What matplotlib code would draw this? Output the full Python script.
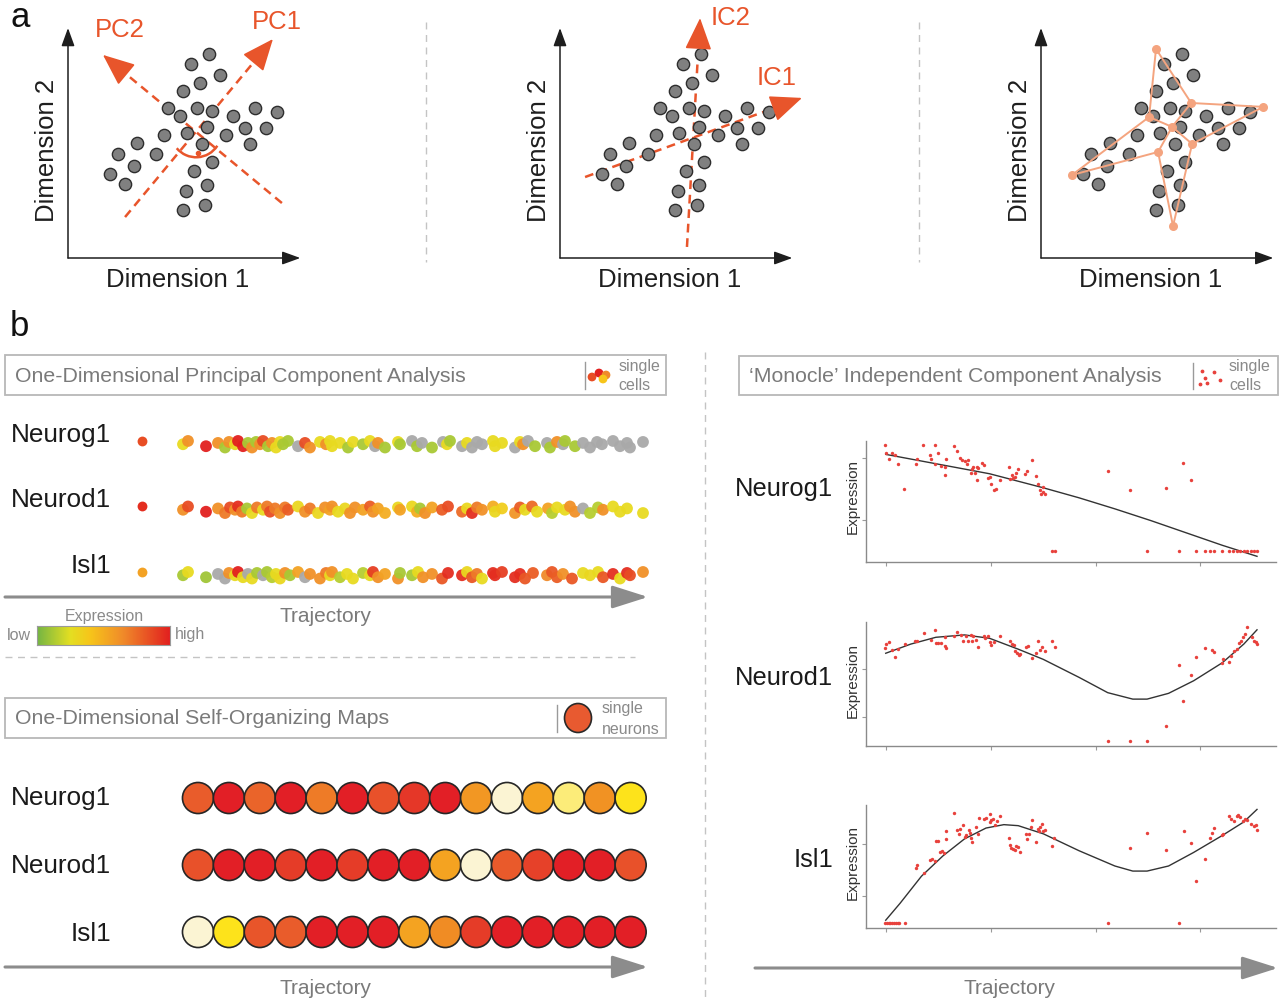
import numpy as np
import matplotlib.pyplot as plt
from matplotlib.colors import LinearSegmentedColormap
from matplotlib.patches import Rectangle, Arc, Ellipse

plt.rcParams['font.family'] = ['Liberation Sans', 'DejaVu Sans']

# ---------------- data ----------------
# panel a: the same toy point cloud in three panels (Dimension 1 / Dimension 2)
cloud_x = [6.13, 5.35, 6.61, 5.74, 5.00, 4.35, 4.87, 5.61, 6.26, 7.17, 8.13, 9.09,
           5.17, 6.04, 6.87, 7.70, 8.61, 7.91, 4.17, 3.00, 2.17, 3.83, 2.87, 1.83,
           2.48, 5.83, 6.26, 5.48, 6.04, 5.13, 5.96, 5.00]
cloud_y = [8.87, 8.43, 7.96, 7.61, 7.26, 6.52, 6.17, 6.52, 6.39, 6.17, 6.52, 6.35,
           5.43, 5.70, 5.35, 5.65, 5.65, 4.96, 5.35, 5.00, 4.52, 4.52, 4.00, 3.65,
           3.22, 4.96, 4.17, 3.78, 3.17, 2.91, 2.30, 2.09]

pc_names = ['PC1', 'PC2']
pc_start = [(2.48, 1.78), (9.30, 2.39)]
pc_tip = [(8.91, 9.52), (1.52, 8.83)]
pc_label_pos = [(9.09, 10.26), (2.26, 9.91)]
pc_center = (5.57, 5.48)
pc_dot = (5.64, 4.58)

ic_names = ['IC1', 'IC2']
ic_start = [(1.09, 3.52), (5.52, 0.48)]
ic_tip = [(10.52, 6.96), (6.09, 10.43)]
ic_label_pos = [(9.43, 7.83), (7.43, 10.43)]

graph_nodes = {'A': (5.00, 9.09), 'B': (6.53, 6.74), 'C': (9.66, 6.57), 'D': (5.70, 5.70),
               'E': (4.70, 6.13), 'F': (6.57, 4.96), 'G': (5.09, 4.61), 'H': (1.35, 3.61),
               'I': (5.74, 1.39)}
graph_edges = ['AB', 'BC', 'CF', 'FI', 'IG', 'GH', 'HE', 'EA', 'BD', 'DF', 'DG', 'ED']

# panel b: 1D PCA strips, position along trajectory and expression level (nan = not detected)
genes = ['Neurog1', 'Neurod1', 'Isl1']
nan = np.nan
neurog1_pos = [0, 5, 23, 35, 42, 46, 52, 55, 60, 65, 69, 73, 77, 80, 85, 89, 93, 97, 100, 105,
               115, 122, 127, 137, 143, 147, 149, 157, 165, 170, 180, 187, 192, 195, 202, 215,
               217, 229, 234, 239, 249, 260, 264, 267, 279, 284, 289, 294, 299, 310, 312, 319,
               332, 337, 340, 345, 352, 364, 367, 374, 380, 382, 392, 400, 407, 414, 419, 430,
               437, 444, 447, 460]
neurog1_lvl = [0.28, 0.62, 1.0, 0.62, 0.12, 0.62, 0.28, 1.0, 1.0, 0.12, 0.62, 0.12, 0.62, 0.85,
               0.12, 0.62, 0.28, 0.28, 0.12, 0.12, nan, 0.85, 0.62, 0.28, 0.62, 0.28, 0.28, 0.28,
               0.12, 0.28, 0.12, 0.28, nan, 0.62, 0.12, 0.28, 0.12, nan, 0.12, nan, 0.12, nan,
               0.28, 0.12, nan, 0.28, nan, nan, nan, 0.28, 0.28, 0.28, nan, 0.28, 0.62, nan,
               0.12, nan, 0.12, 0.62, nan, 0.12, 0.12, nan, nan, nan, nan, nan, nan, nan, nan, nan]
neurod1_pos = [0, 5, 23, 35, 42, 47, 52, 55, 59, 64, 69, 74, 80, 84, 87, 92, 97, 102, 105, 115,
               122, 127, 135, 142, 147, 149, 155, 162, 167, 172, 180, 187, 190, 195, 202, 215,
               217, 229, 234, 237, 242, 249, 259, 265, 279, 284, 289, 294, 299, 310, 312, 319,
               332, 337, 342, 349, 354, 365, 369, 374, 382, 387, 392, 400, 407, 415, 420, 430,
               437, 444, 460]
neurod1_lvl = [0.62, 0.85, 1.0, 0.62, 0.7, 0.85, 0.62, 0.95, 0.7, 0.12, 0.28, 0.7, 0.28, 0.7,
               0.85, 0.7, 0.62, 0.7, 0.8, 0.3, 0.62, 0.7, 0.3, 0.62, 0.55, 0.62, 0.28, 0.3, 0.62,
               0.62, 0.55, 0.8, 0.62, 0.55, 0.5, 0.3, 0.55, 0.3, 0.5, 0.12, 0.62, 0.55, 0.8, 0.85,
               0.75, 0.3, 0.95, 0.7, 0.62, 0.5, 0.3, 0.35, 0.6, 0.8, 0.28, 0.75, 0.28, 0.55, 0.15,
               0.28, 0.28, 0.62, 0.62, nan, 0.15, 0.15, 0.62, 0.28, 0.28, 0.28, 0.28]
isl1_pos = [0, 5, 23, 35, 42, 46, 52, 55, 60, 65, 69, 74, 80, 84, 89, 93, 97, 102, 107, 115,
            122, 127, 137, 143, 147, 149, 157, 164, 170, 180, 187, 190, 195, 202, 215, 217, 229,
            235, 240, 249, 259, 265, 279, 284, 289, 294, 299, 310, 312, 319, 332, 337, 342, 350,
            364, 369, 374, 380, 389, 400, 407, 415, 420, 430, 437, 444, 447, 460]
isl1_lvl = [0.12, 0.28, 0.1, nan, nan, 0.62, 0.28, 1.0, 0.28, nan, 0.28, 0.12, nan, 0.12, 0.15,
            0.28, 0.3, 0.62, 0.12, 0.55, nan, 0.62, 0.62, 0.7, 0.28, 0.62, 0.15, 0.28, 0.28,
            0.15, 0.28, 0.9, 0.62, 0.55, 0.62, 0.12, 0.12, 0.28, 0.62, 0.62, 0.82, 0.95, 0.95,
            0.3, 0.82, 0.7, 0.28, 0.95, 0.95, 0.9, 0.95, 0.95, 0.82, 0.8, 0.65, 0.82, 0.8, 0.62,
            0.82, 0.28, 0.3, 0.28, 0.82, 0.95, 0.28, 0.95, 0.85, 0.62]
mean_level = [0.85, 0.95, 0.55]

# panel b: 1D self-organizing map, 15 neurons per gene
som_neurog1 = [0.75, 1.0, 0.72, 1.0, 0.62, 1.0, 0.8, 0.9, 1.0, 0.5, 0.0, 0.45, 0.1, 0.52, 0.2]
som_neurod1 = [0.8, 1.0, 1.0, 0.88, 1.0, 0.88, 1.0, 1.0, 0.45, 0.0, 0.76, 0.86, 1.0, 1.0, 0.8]
som_isl1 = [0.0, 0.2, 0.78, 0.75, 1.0, 1.0, 1.0, 0.45, 0.55, 0.88, 1.0, 1.0, 1.0, 1.0, 1.0]

# panel b: Monocle pseudotime plots (cells and fitted curve)
ng_x = [-0.7, 0.7, 2.7, 6.1, 9.2, 11.9, 17.7, 29.0, 30.0, 35.8, 42.0, 42.7, 47.1, 47.1, 49.5,
        52.9, 56.3, 56.3, 57.0, 65.5, 68.3, 71.0, 72.4, 75.1, 77.1, 78.5, 81.2, 81.9, 83.6,
        85.3, 86.7, 87.0, 88.1, 92.2, 93.9, 97.3, 99.0, 100.7, 103.1, 104.8, 108.5, 117.7,
        118.8, 120.1, 121.2, 123.6, 124.6, 126.3, 133.1, 134.8, 139.9, 143.3, 145.1, 146.8,
        147.8, 149.5, 150.2, 151.9, 211.6, 233.1, 267.2, 283.3, 291.1,
        158.7, 161.4, 249.1, 279.9, 296.2, 304.4, 309.2, 313.3, 320.8, 327.6, 331.1, 334.5,
        337.9, 341.3, 344.7, 348.1, 351.5, 353.9]
ng_y = [34.9, 32.7, 30.7, 32.7, 32.0, 29.2, 21.9, 29.2, 30.9, 34.9, 31.9, 30.7, 34.9, 29.4,
        32.5, 28.6, 25.9, 28.4, 30.7, 34.6, 33.2, 31.0, 30.6, 30.2, 29.4, 30.4, 26.7, 27.7,
        28.4, 26.7, 24.4, 28.4, 28.1, 29.6, 28.9, 25.2, 25.5, 23.4, 21.4, 21.7, 24.4, 28.4,
        24.7, 26.0, 25.2, 25.4, 26.7, 27.7, 26.4, 27.2, 30.4, 25.7, 23.2, 21.4, 20.4, 22.4,
        21.0, 20.2, 27.2, 21.5, 22.0, 29.5, 24.4,
        3.2, 3.2, 3.2, 3.2, 3.2, 3.2, 3.2, 3.2, 3.2, 3.2, 3.2, 3.2, 3.2, 3.2, 3.2, 3.2, 3.2, 3.2]
ng_fit_x = [0, 47.8, 99.0, 150.2, 184.3, 218.4, 252.6, 286.7, 320.8, 353.9]
ng_fit_y = [32.2, 29.4, 26.4, 22.2, 19.2, 15.9, 12.4, 8.7, 5.0, 1.7]

nd_x = [-0.7, 0.7, 2.7, 6.1, 9.2, 11.9, 18.8, 28.3, 30.0, 36.5, 42.7, 46.8, 47.8, 50.2, 52.9,
        56.3, 57.0, 56.3, 65.5, 68.3, 71.7, 73.4, 76.1, 78.5, 80.9, 81.9, 83.6, 86.0, 88.1,
        93.9, 94.9, 97.3, 99.0, 100.7, 103.1, 108.5, 118.8, 120.1, 122.2, 123.6, 125.6, 127.0,
        128.0, 133.8, 135.8, 139.9, 143.3, 145.1, 146.8, 149.1, 151.9, 158.7, 161.1,
        211.6, 233.1, 249.1, 267.2, 279.9, 283.3, 291.1, 296.2, 304.4, 310.6, 313.3, 320.8,
        321.8, 327.0, 328.7, 331.7, 334.5, 337.2, 338.6, 340.6, 342.0, 344.0, 348.8, 350.9,
        352.6, 353.9]
nd_y = [28.8, 30.0, 30.5, 28.3, 26.3, 28.5, 30.0, 30.8, 31.0, 33.2, 31.3, 34.0, 30.3, 30.3,
        30.2, 29.5, 28.8, 32.0, 32.3, 33.5, 32.7, 31.0, 32.3, 31.0, 32.7, 31.0, 32.3, 31.2,
        29.0, 32.3, 31.7, 32.3, 30.5, 29.8, 30.7, 32.3, 31.0, 30.0, 29.8, 28.0, 27.5, 26.8,
        27.0, 29.0, 29.5, 26.0, 27.5, 30.8, 28.3, 29.0, 28.0, 30.8, 29.0,
        1.5, 1.5, 1.5, 6.0, 23.8, 13.2, 21.0, 26.2, 28.8, 28.2, 27.8, 24.5, 25.5, 24.8, 26.5,
        28.0, 28.5, 30.2, 31.0, 32.0, 33.0, 35.0, 32.0, 31.0, 30.5, 30.0]
nd_fit_x = [0, 23.9, 47.8, 75.1, 99.0, 126.3, 150.2, 184.3, 211.6, 235.5, 249.1, 269.6, 293.5,
            320.8, 341.3, 353.9]
nd_fit_y = [27.3, 30.0, 32.0, 32.7, 31.7, 28.5, 25.5, 20.2, 15.7, 13.8, 13.8, 15.5, 19.2,
            24.5, 30.0, 34.2]

is_x = [-0.7, 1.0, 2.7, 4.4, 6.1, 7.8, 9.6, 11.3, 12.6, 18.8, 211.6, 279.9,
        29.0, 30.0, 36.5, 42.0, 43.7, 46.8, 47.8, 50.2, 51.9, 53.6, 55.3, 57.0, 57.3, 65.5,
        68.3, 70.0, 70.6, 73.4, 75.1, 76.8, 79.2, 80.2, 80.9, 81.9, 86.0, 88.1, 88.7, 93.9,
        95.6, 99.0, 99.7, 100.7, 102.4, 104.1, 105.8, 108.5, 117.7, 118.8, 119.5, 121.2,
        122.9, 124.6, 126.3, 128.0, 133.8, 134.8, 136.5, 138.2, 139.9, 143.3, 145.1, 146.1,
        147.4, 148.5, 150.2, 151.9, 158.7, 160.4, 233.1, 249.1, 267.2, 284.0, 291.1, 296.2,
        304.4, 308.9, 310.6, 313.3, 320.8, 321.8, 327.0, 329.4, 331.7, 334.5, 336.2, 337.9,
        340.6, 342.0, 344.7, 348.1, 350.9, 352.6, 353.9]
is_y = [1.6, 1.6, 1.6, 1.6, 1.6, 1.6, 1.6, 1.6, 1.6, 1.6, 1.6, 1.6,
        17.6, 18.6, 16.3, 20.1, 20.5, 19.8, 25.8, 25.8, 22.3, 22.8, 22.1, 26.3, 28.6, 33.8,
        28.8, 27.8, 29.1, 30.5, 26.8, 27.5, 29.0, 28.1, 26.5, 25.5, 29.8, 27.8, 32.5, 32.3,
        32.6, 31.3, 33.6, 31.8, 32.3, 30.3, 31.6, 33.0, 26.5, 24.6, 23.6, 23.3, 23.0, 24.3,
        24.0, 22.3, 27.8, 26.3, 27.8, 29.8, 32.0, 25.3, 29.3, 28.5, 29.8, 30.8, 28.5, 29.0,
        24.3, 26.5, 23.5, 28.0, 23.1, 28.6, 25.0, 13.8, 20.3, 26.5, 28.0, 29.6, 27.3, 27.8,
        33.0, 32.3, 31.6, 33.0, 33.3, 32.8, 31.6, 32.3, 32.0, 30.8, 30.0, 30.5, 29.0]
is_fit_x = [0, 13.7, 34.1, 54.6, 75.1, 95.6, 112.6, 126.3, 150.2, 184.3, 218.4, 235.5, 249.1,
            269.6, 293.5, 320.8, 341.3, 353.9]
is_fit_y = [2.3, 7.3, 15.3, 21.3, 26.3, 29.5, 30.5, 30.2, 27.8, 22.8, 18.3, 16.8, 16.8, 18.3,
            22.3, 27.3, 31.3, 35.0]

# ---------------- styles ----------------
W, H = 1282, 1002
ORANGE = '#e8552b'
PEACH = '#f4a47f'
GREY_TXT = '#7a7a7a'
BOX = '#b8b8b8'
expr_cmap = LinearSegmentedColormap.from_list(
    'expr', [(0, '#74b544'), (0.25, '#e4df22'), (0.4, '#f7c51a'), (0.65, '#f08a2a'), (1, '#e2201f')])
som_cmap = LinearSegmentedColormap.from_list(
    'som', [(0, '#fbf4d3'), (0.2, '#fde31b'), (0.45, '#f4a321'), (0.75, '#e95d2b'), (1, '#e21f26')])

fig = plt.figure(figsize=(W / 100, H / 100), dpi=100)
canvas = fig.add_axes([0, 0, 1, 1])
canvas.set_xlim(0, W)
canvas.set_ylim(H, 0)
canvas.axis('off')


def px_axes(x0, y0, x1, y1):
    ax = fig.add_axes([x0 / W, 1 - y1 / H, (x1 - x0) / W, (y1 - y0) / H])
    ax.set_facecolor('none')
    return ax


def head(ax, start, tip, color, frac=0.09, hl=1.0, hw=0.42):
    # solid arrow head at the end of a dashed line
    sx, sy = start
    tx, ty = tip
    bx, by = tx - (tx - sx) * frac, ty - (ty - sy) * frac
    ax.plot([sx, bx], [sy, by], color=color, lw=1.8, ls=(0, (3.5, 2.3)), zorder=2)
    ax.annotate('', xy=tip, xytext=(bx, by), annotation_clip=False,
                arrowprops=dict(arrowstyle=f'-|>,head_length={hl},head_width={hw}',
                                color=color, lw=1.2, mutation_scale=20, shrinkA=0, shrinkB=0))


def dim_axes(ox):
    ax = px_axes(ox, 28, ox + 230, 258)
    ax.set_xlim(0, 10)
    ax.set_ylim(0, 10)
    ax.axis('off')
    st = dict(arrowstyle='-|>,head_length=0.55,head_width=0.2', color='#1e1e1e', lw=1.1,
              mutation_scale=20, shrinkA=0, shrinkB=0)
    ax.annotate('', xy=(0, 10), xytext=(0, 0), arrowprops=st, annotation_clip=False)
    ax.annotate('', xy=(10.1, 0), xytext=(0, 0), arrowprops=st, annotation_clip=False)
    ax.scatter(cloud_x, cloud_y, s=78, c='#808080', edgecolors='#2d2d2d', linewidths=1.0, zorder=3)
    canvas.text(ox + 110, 280, 'Dimension 1', fontsize=18.5, color='#1e1e1e', ha='center', va='center')
    canvas.text(ox - 21, 150, 'Dimension 2', fontsize=18.5, color='#1e1e1e', ha='center',
                va='center', rotation=90)
    return ax


# ---------------- panel a ----------------
canvas.text(10, 17, 'a', fontsize=25, va='center', color='#111')
canvas.text(10, 327, 'b', fontsize=25, va='center', color='#111')

ax1 = dim_axes(68)
for s, t in zip(pc_start, pc_tip):
    head(ax1, s, t, ORANGE)
for name, (lx, ly) in zip(pc_names, pc_label_pos):
    ax1.text(lx, ly, name, fontsize=18.5, color=ORANGE, ha='center', va='center')
ax1.add_patch(Arc(pc_center, 2.2, 2.2, theta1=220, theta2=327, color=ORANGE, lw=1.8, zorder=4))
ax1.plot(*pc_dot, 'o', color=ORANGE, ms=3, zorder=4)

ax2 = dim_axes(560)
for s, t in zip(ic_start, ic_tip):
    head(ax2, s, t, ORANGE, frac=0.095)
for name, (lx, ly) in zip(ic_names, ic_label_pos):
    ax2.text(lx, ly, name, fontsize=18.5, color=ORANGE, ha='center', va='center')

ax3 = dim_axes(1041)
for a, b in graph_edges:
    ax3.plot([graph_nodes[a][0], graph_nodes[b][0]], [graph_nodes[a][1], graph_nodes[b][1]],
             color=PEACH, lw=1.4, zorder=4)
ax3.scatter([p[0] for p in graph_nodes.values()], [p[1] for p in graph_nodes.values()],
            s=30, c=PEACH, zorder=5)

for xs in (426, 919):
    canvas.plot([xs, xs], [22, 262], color='#c4c4c4', lw=1, ls=(0, (5, 4)))

# ---------------- panel b: boxes / decorations ----------------
def title_box(x0, y0, x1, y1, title, div, w1, w2, wx1, wx2):
    canvas.add_patch(Rectangle((x0, y0), x1 - x0, y1 - y0, fill=False, ec=BOX, lw=1.3))
    canvas.text(x0 + 10, (y0 + y1) / 2 + 1, title, fontsize=15.3, color=GREY_TXT, va='center')
    canvas.plot([div, div], [y0 + 7, y1 - 6], color='#9a9a9a', lw=1)
    canvas.text(wx1, y0 + 11, w1, fontsize=11.5, color='#8a8a8a', ha='center', va='center')
    canvas.text(wx2, y1 - 9, w2, fontsize=11.5, color='#8a8a8a', ha='center', va='center')


title_box(5, 355, 666, 395, 'One-Dimensional Principal Component Analysis', 585,
          'single', 'cells', 640, 634)
canvas.scatter([592, 599, 606, 603], [377, 373, 375, 379], s=28,
               c=[expr_cmap(0.85), expr_cmap(1.0), expr_cmap(0.65), expr_cmap(0.4)], zorder=5)

title_box(5, 698, 666, 738, 'One-Dimensional Self-Organizing Maps', 557,
          'single', 'neurons', 623, 631)
canvas.add_patch(Ellipse((578, 718), 27, 29, fc='#e85a30', ec='#2a2a2a', lw=1.2))

title_box(739, 356, 1278, 395, '\u2018Monocle\u2019 Independent Component Analysis', 1193,
          'single', 'cells', 1250, 1245)
canvas.scatter([1202, 1205, 1200, 1207, 1214, 1220], [371, 378, 384, 383, 372, 380], s=3,
               c='#e8413c', zorder=5)

arrow_st = dict(arrowstyle='-|>,head_length=1.1,head_width=0.35', color='#8c8c8c', lw=2.2,
                mutation_scale=20, shrinkA=0, shrinkB=0)
canvas.annotate('', xy=(648, 597), xytext=(5, 597), arrowprops=arrow_st)
canvas.annotate('', xy=(648, 967), xytext=(5, 967), arrowprops=arrow_st)
canvas.annotate('', xy=(1278, 968), xytext=(755, 968), arrowprops=arrow_st)
for tx, ty in ((325, 617), (325, 988), (1010, 988)):
    canvas.text(tx, ty, 'Trajectory', fontsize=15, color=GREY_TXT, ha='center', va='center')

canvas.plot([5, 635], [657, 657], color='#c4c4c4', lw=1, ls=(0, (5, 4)))
canvas.plot([705, 705], [352, 1000], color='#c4c4c4', lw=1, ls=(0, (5, 4)))

# ---------------- 1D PCA strips ----------------
strip = px_axes(130, 420, 660, 590)
strip.set_xlim(-53, 477)
strip.set_ylim(2.275, -0.32)
strip.axis('off')
jit = [0.0, -0.05, 0.03, -0.02, 0.05, -0.035]
for row, (pos, lvl) in enumerate([(neurog1_pos, neurog1_lvl), (neurod1_pos, neurod1_lvl),
                                  (isl1_pos, isl1_lvl)]):
    lvl = np.array(lvl, dtype=float)
    cols = [expr_cmap(v) if not np.isnan(v) else '#a9a9a9' for v in lvl]
    ys = [row + 0.05 + jit[i % len(jit)] for i in range(len(pos))]
    strip.scatter(pos, ys, s=72, c=cols, linewidths=0, alpha=0.95, zorder=3)
    strip.scatter([-41], [row], s=50, c=[expr_cmap(mean_level[row])], linewidths=0)
for name, y in zip(genes, (435, 500, 566)):
    canvas.text(111, y, name, fontsize=18.8, color='#1a1a1a', ha='right', va='center')

# colour legend
cax = px_axes(37, 626, 170, 645)
cax.imshow(np.linspace(0, 1, 256)[None, :], aspect='auto', cmap=expr_cmap)
cax.set_xticks([])
cax.set_yticks([])
for sp in cax.spines.values():
    sp.set_color('#9a9a9a')
canvas.text(104, 617, 'Expression', fontsize=11.5, color='#8a8a8a', ha='center', va='center')
canvas.text(19, 635, 'low', fontsize=11.5, color='#8a8a8a', ha='center', va='center')
canvas.text(190, 635, 'high', fontsize=11.5, color='#8a8a8a', ha='center', va='center')

# ---------------- SOM ----------------
som = px_axes(170, 770, 660, 960)
som.set_xlim(-0.906, 14.95)
som.set_ylim(2.418, -0.418)
som.axis('off')
for row, vals in enumerate([som_neurog1, som_neurod1, som_isl1]):
    som.scatter(np.arange(len(vals)), [row] * len(vals), s=500, c=[som_cmap(v) for v in vals],
                edgecolors='#262626', linewidths=1.2, zorder=3)
for name, y in zip(genes, (798, 866, 934)):
    canvas.text(111, y, name, fontsize=18.8, color='#1a1a1a', ha='right', va='center')

# ---------------- Monocle ----------------
mono = [(441, 562, (0, 36.2), [12.5, 31.0], ng_x, ng_y, ng_fit_x, ng_fit_y, 489, 497),
        (622, 746, (0, 36.5), [8.5, 22.7], nd_x, nd_y, nd_fit_x, nd_fit_y, 678, 680),
        (805, 928, (0, 36.3), [9.3, 24.8], is_x, is_y, is_fit_x, is_fit_y, 860, 863)]
for name, (y0, y1, ylim, yt, px, py, fx, fy, ly, ey) in zip(genes, mono):
    ax = px_axes(866, y0, 1276, y1)
    ax.set_xlim(-18.8, 372)
    ax.set_ylim(*ylim)
    ax.scatter(px, py, s=6, c='#e8413c', linewidths=0, zorder=3)
    ax.plot(fx, fy, color='#333333', lw=1.0, zorder=2)
    for side in ('top', 'right'):
        ax.spines[side].set_visible(False)
    for side in ('left', 'bottom'):
        ax.spines[side].set_color('#8a8a8a')
        ax.spines[side].set_linewidth(1.0)
    ax.set_xticks([0, 100, 200, 300])
    ax.set_yticks(yt)
    ax.tick_params(length=3, width=0.8, color='#9a9a9a', labelbottom=False, labelleft=False)
    canvas.text(833, ly, name, fontsize=18.4, color='#1a1a1a', ha='right', va='center')
    canvas.text(853, ey, 'Expression', fontsize=11, color='#333333', ha='center', va='center',
                rotation=90)

fig.savefig('out.png', dpi=100)
